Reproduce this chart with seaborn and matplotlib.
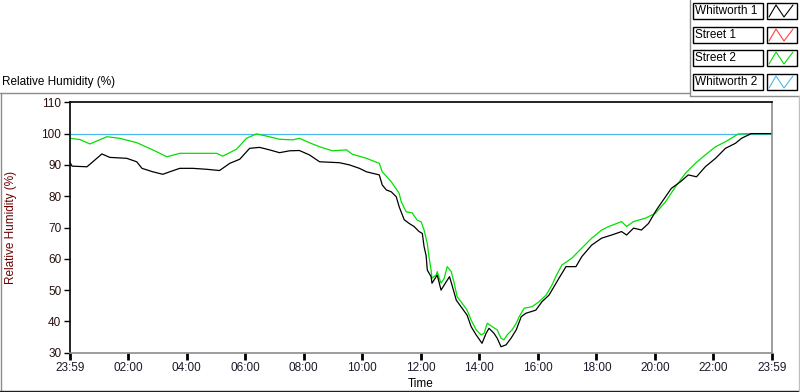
import numpy as np
import pandas as pd
import matplotlib
matplotlib.use("Agg")
import matplotlib.pyplot as plt
import seaborn as sns
from matplotlib.patches import Rectangle
from matplotlib.lines import Line2D
from matplotlib.ticker import MultipleLocator

# ---------------- data ----------------
series_names = ["Whitworth 1", "Street 1", "Street 2", "Whitworth 2"]
series_colors = ["#000000", "#ff4040", "#00e000", "#4db8f0"]

x_tick_hours = [0, 2, 4, 6, 8, 10, 12, 14, 16, 18, 20, 22, 24]
x_tick_labels = ["23:59", "02:00", "04:00", "06:00", "08:00", "10:00", "12:00",
                 "14:00", "16:00", "18:00", "20:00", "22:00", "23:59"]
y_ticks = [30, 40, 50, 60, 70, 80, 90, 100, 110]

w1_hours = [0.00, 0.08, 0.59, 0.79, 1.10, 1.37, 1.95, 2.29, 2.47, 2.84, 3.18, 3.42,
            3.76, 4.21, 4.68, 5.12, 5.47, 5.81, 6.15, 6.49, 6.83, 7.17, 7.51, 7.85,
            8.19, 8.54, 9.22, 9.56, 9.90, 10.14, 10.58, 10.68, 10.82, 10.99, 11.16,
            11.26, 11.43, 11.60, 11.77, 11.94, 12.05, 12.11, 12.18, 12.22, 12.35,
            12.38, 12.56, 12.69, 12.87, 12.98, 13.08, 13.21, 13.41, 13.58, 13.72,
            13.89, 14.09, 14.23, 14.33, 14.50, 14.61, 14.74, 14.91, 15.08, 15.26,
            15.43, 15.59, 15.76, 15.93, 16.14, 16.38, 16.62, 16.72, 16.96, 17.30,
            17.50, 17.84, 18.18, 18.52, 18.86, 19.03, 19.27, 19.54, 19.78, 20.05,
            20.36, 20.56, 20.87, 21.14, 21.42, 21.72, 22.07, 22.41, 22.75, 22.96,
            23.29, 24.00]
w1_rh = [91.0, 89.6, 89.4, 91.0, 93.5, 92.4, 92.1, 91.0, 88.9, 87.8, 87.0, 87.8,
         88.9, 88.9, 88.6, 88.2, 90.5, 91.8, 95.3, 95.6, 94.8, 93.9, 94.5, 94.6,
         93.2, 91.0, 90.7, 90.0, 88.9, 87.8, 86.8, 83.6, 82.0, 81.4, 79.8,
         76.6, 72.5, 71.3, 70.3, 68.7, 68.1, 63.9, 61.0, 56.4, 54.3,
         52.2, 54.8, 50.0, 52.7, 54.3, 51.1, 46.8, 44.2, 42.0, 38.3,
         35.7, 33.0, 36.2, 37.8, 36.2, 34.6, 31.9, 32.5, 34.6, 37.3,
         41.5, 42.6, 43.1, 43.6, 46.3, 48.4, 52.2, 53.8, 57.5, 57.5,
         60.7, 64.4, 66.6, 67.6, 68.7, 67.6, 69.8, 69.2, 71.3, 75.6,
         79.8, 82.5, 84.6, 86.8, 86.2, 89.4, 92.1, 95.3, 96.9, 98.5,
         100.0, 100.0]

s1_hours = []
s1_rh = []

s2_hours = [0.00, 0.35, 0.69, 1.27, 1.71, 2.29, 2.84, 3.32, 3.76, 4.44, 5.02, 5.23,
            5.70, 6.04, 6.38, 6.73, 7.17, 7.62, 7.85, 8.19, 8.54, 8.98, 9.46, 9.66,
            10.14, 10.58, 10.68, 10.99, 11.26, 11.33, 11.50, 11.70, 11.87, 12.01,
            12.11, 12.22, 12.28, 12.35, 12.38, 12.52, 12.56, 12.69, 12.80, 12.90,
            13.04, 13.14, 13.24, 13.41, 13.58, 13.72, 13.89, 14.06, 14.16, 14.27,
            14.44, 14.61, 14.74, 14.84, 14.95, 15.12, 15.26, 15.36, 15.53, 15.80,
            16.04, 16.28, 16.48, 16.62, 16.82, 17.16, 17.50, 17.84, 18.18, 18.42,
            18.86, 19.03, 19.27, 19.68, 20.02, 20.36, 20.70, 21.04, 21.38, 21.72,
            22.07, 22.41, 22.85, 23.29, 24.00]
s2_rh = [98.5, 98.1, 96.7, 99.0, 98.5, 97.1, 94.8, 92.6, 93.7, 93.7, 93.7, 92.8,
         95.0, 98.5, 99.9, 99.2, 98.2, 98.0, 98.5, 97.1, 95.8, 94.5, 94.8, 93.4,
         92.1, 90.5, 87.8, 84.6, 80.9, 78.2, 75.0, 74.7, 72.4, 71.8,
         69.2, 64.9, 60.5, 56.4, 53.8, 54.8, 55.9, 52.2, 53.8, 57.5,
         55.9, 52.2, 47.9, 45.8, 43.6, 40.4, 37.3, 35.7, 36.2, 39.4,
         38.3, 37.3, 34.6, 34.1, 35.7, 37.3, 39.4, 41.5, 44.2, 44.7,
         46.3, 48.4, 51.6, 54.5, 58.0, 60.2, 63.4, 66.6, 69.2, 70.3,
         71.9, 70.3, 71.9, 73.0, 74.6, 78.2, 83.0, 87.3, 90.5, 93.2,
         95.8, 97.4, 99.9, 100.0, 100.0]

w2_hours = [0.0, 24.0]
w2_rh = [100.0, 100.0]

# ---------------- frame ----------------
frames = []
for name, h, v in [("Whitworth 2", w2_hours, w2_rh),
                   ("Street 2", s2_hours, s2_rh),
                   ("Street 1", s1_hours, s1_rh),
                   ("Whitworth 1", w1_hours, w1_rh)]:
    frames.append(pd.DataFrame({"Time": h, "RH": v, "Series": name}))
df = pd.concat([f for f in frames if len(f)], ignore_index=True)
palette = dict(zip(series_names, series_colors))

sns.set_style("white")
plt.rcParams["font.family"] = ["Liberation Sans", "DejaVu Sans"]

FS = 8.5
W, H = 800, 392
fig = plt.figure(figsize=(W / 100, H / 100), dpi=100)
fig.patch.set_facecolor("white")

def fx(px):
    return px / W

def fy(py):
    return 1 - py / H

ax_l, ax_r, ax_t, ax_b = 69.7, 772.0, 102.3, 352.7
ax = fig.add_axes([fx(ax_l), fy(ax_b), (ax_r - ax_l) / W, (ax_b - ax_t) / H])

sns.lineplot(data=df, x="Time", y="RH", hue="Series", palette=palette,
             hue_order=["Whitworth 2", "Street 2", "Whitworth 1"],
             estimator=None, sort=False, linewidth=0.9, legend=False, ax=ax)

ax.set_xlim(0, 24)
ax.set_ylim(30, 110)
ax.set_xticks(x_tick_hours)
ax.set_xticklabels(x_tick_labels)
ax.set_yticks(y_ticks)
ax.xaxis.set_minor_locator(MultipleLocator(0.2))
ax.set_xlabel("")
ax.set_ylabel("Relative Humidity (%)", color="#6a0000", fontsize=FS)
ax.yaxis.set_label_coords(-0.075, 0.5)

ax.tick_params(axis="x", which="major", direction="out", length=5, width=2,
               color="#000000", labelsize=FS, labelcolor="#1a1a2a", pad=2)
ax.tick_params(axis="x", which="minor", direction="out", length=3, width=1,
               color="#000000")
ax.tick_params(axis="y", which="major", direction="out", length=4, width=1,
               color="#000000", labelsize=FS, labelcolor="#2a1010", pad=2)
ax.tick_params(left=True, bottom=True)

for side in ["top", "left"]:
    ax.spines[side].set_color("#000000")
    ax.spines[side].set_linewidth(1.2)
for side in ["bottom", "right"]:
    ax.spines[side].set_color("#8c8c8c")
    ax.spines[side].set_linewidth(1.2)
ax.grid(False)

# ---------------- panel decoration ----------------
gray = "#8c8c8c"
def fline(xs, ys, color, lw=1.0):
    fig.add_artist(Line2D([fx(x) for x in xs], [fy(y) for y in ys],
                          transform=fig.transFigure, color=color, lw=lw))

fline([0, 690], [93, 93], gray)
fline([690, 690], [0, 96], gray)
fline([690, 800], [96, 96], gray)
fline([1, 1], [93, 391], gray)
fline([0, 800], [391, 391], "#202020")
fline([798.5, 798.5], [96, 391], "#c0c0c0")

fig.text(fx(2), fy(82), "Relative Humidity (%)", ha="left", va="center",
         fontsize=FS, color="#000000")
fig.text(fx(421), fy(384), "Time", ha="center", va="center",
         fontsize=FS, color="#000000")

# ---------------- legend (plot legend panel) ----------------
centers = [11, 35, 58, 82]
for name, col, cy in zip(series_names, series_colors, centers):
    fig.add_artist(Rectangle((fx(692.5), fy(cy + 8)), 70 / W, 16 / H,
                             transform=fig.transFigure, facecolor="white",
                             edgecolor="black", lw=1.0))
    fig.text(fx(695), fy(cy), name, ha="left", va="center", fontsize=FS,
             color="black")
    fig.add_artist(Rectangle((fx(766.5), fy(cy + 8)), 30 / W, 16 / H,
                             transform=fig.transFigure, facecolor="white",
                             edgecolor="black", lw=1.0))
    gx = [769, 776, 784, 793]
    gy = [cy + 6, cy - 6, cy + 6, cy - 6]
    fline(gx, gy, col, 0.8)

fig.savefig("out.png", dpi=100, facecolor="white")
